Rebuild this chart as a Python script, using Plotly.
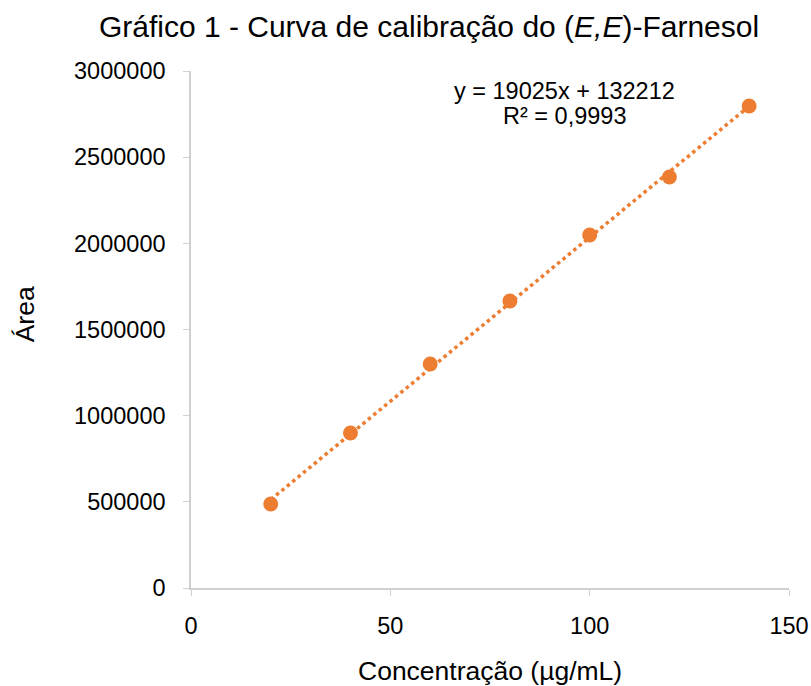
import plotly.graph_objects as go
import numpy as np

conc = [20, 40, 60, 80, 100, 120, 140]
area = [487000, 899000, 1300000, 1665000, 2048000, 2385000, 2797000]
slope, intercept = 19025, 132212
eq_line1 = "y = 19025x + 132212"
eq_line2 = "R² = 0,9993"

orange = "#ED7D31"
axis_grey = "#D0D0D0"
xs = np.array([min(conc), max(conc)])
fig = go.Figure()
fig.add_trace(go.Scatter(x=xs, y=slope * xs + intercept, mode="lines",
                         line=dict(color=orange, width=3.5, dash="dot"),
                         hoverinfo="skip", showlegend=False))
fig.add_trace(go.Scatter(x=conc, y=area, mode="markers",
                         marker=dict(color=orange, size=15),
                         showlegend=False))

fig.update_layout(
    width=811, height=686,
    margin=dict(l=191, r=22, t=71, b=98),
    paper_bgcolor="white", plot_bgcolor="white",
    font=dict(family="Liberation Sans, Arial, sans-serif", color="#000000", size=23.5),
    title=dict(text="Gráfico 1 - Curva de calibração do (<i>E,E</i>)-Farnesol",
               x=0.529, xanchor="center", y=0.961, yanchor="middle",
               font=dict(size=30, color="#000000")),
    xaxis=dict(range=[0, 150], tickvals=[0, 50, 100, 150], showgrid=False, zeroline=False,
               showline=True, linecolor=axis_grey, linewidth=1.5, automargin=False,
               ticks="outside", ticklen=6, tickcolor=axis_grey,
               tickfont=dict(size=23.5), ticklabelstandoff=10),
    yaxis=dict(range=[0, 3000000], tickvals=[0, 500000, 1000000, 1500000, 2000000, 2500000, 3000000],
               tickformat="d", showgrid=False, zeroline=False, automargin=False,
               showline=True, linecolor=axis_grey, linewidth=1.5,
               ticks="outside", ticklen=6, tickcolor=axis_grey,
               tickfont=dict(size=23.5), ticklabelstandoff=13),
    annotations=[
        dict(text=eq_line1, x=0.625, y=0.9604, xref="paper", yref="paper",
             xanchor="center", yanchor="middle", showarrow=False,
             font=dict(size=23.5, color="#000000")),
        dict(text=eq_line2, x=0.625, y=0.913, xref="paper", yref="paper",
             xanchor="center", yanchor="middle", showarrow=False,
             font=dict(size=23.5, color="#000000")),
        dict(text="Concentração (µg/mL)", x=0.5, y=-0.1596, xref="paper", yref="paper",
             xanchor="center", yanchor="middle", showarrow=False,
             font=dict(size=26.5, color="#000000")),
        dict(text="Área", x=-0.277, y=0.53, xref="paper", yref="paper", textangle=-90,
             xanchor="center", yanchor="middle", showarrow=False,
             font=dict(size=26.5, color="#000000")),
    ],
)
fig.write_html("out.html")
